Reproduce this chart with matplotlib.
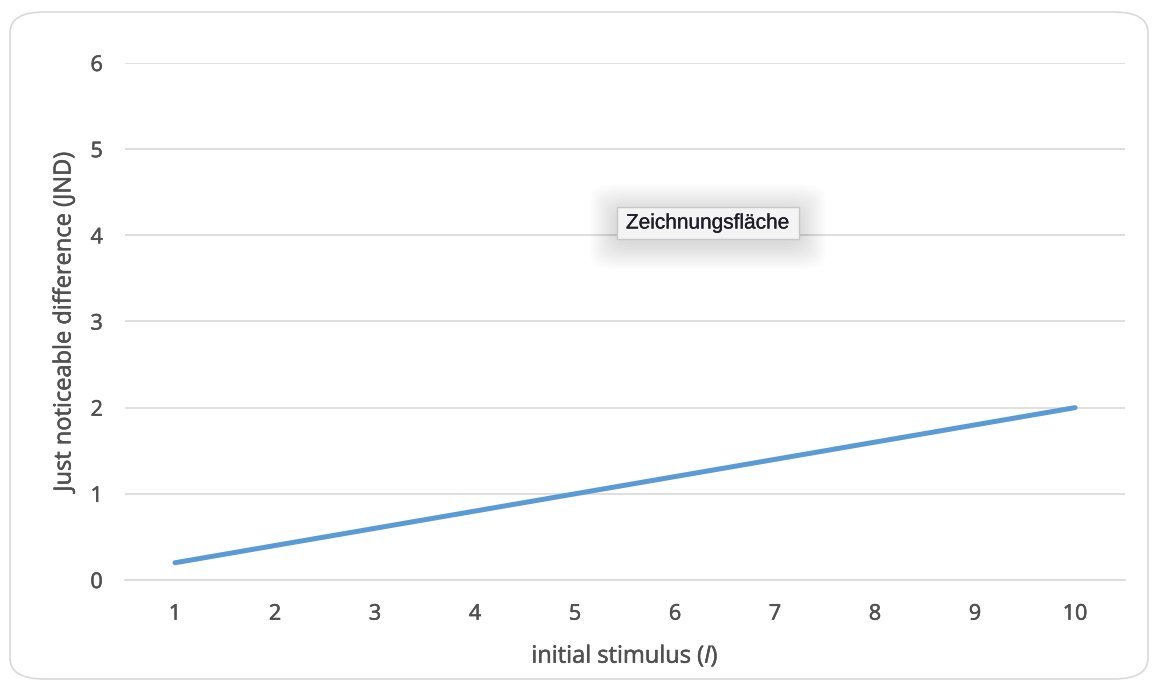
import matplotlib
matplotlib.use('Agg')
import matplotlib.pyplot as plt
import matplotlib.patheffects as pe
from matplotlib.patches import FancyBboxPatch

# stimulus levels and the matching just noticeable difference (Weber fraction 0.2)
stimulus = ['1', '2', '3', '4', '5', '6', '7', '8', '9', '10']
jnd = [0.2, 0.4, 0.6, 0.8, 1.0, 1.2, 1.4, 1.6, 1.8, 2.0]
y_ticks = [0, 1, 2, 3, 4, 5, 6]

plt.rcParams['font.family'] = ['Open Sans', 'DejaVu Sans']
plt.rcParams['mathtext.fontset'] = 'custom'
plt.rcParams['mathtext.it'] = 'Open Sans:italic'
plt.rcParams['mathtext.rm'] = 'Open Sans'

text_grey = '#505050'
# slightly heavier strokes for the labels
heavy = [pe.withStroke(linewidth=0.4, foreground=text_grey)]

fig = plt.figure(figsize=(11.54, 6.83), dpi=100)
ax = fig.add_axes([0.1083, 0.1508, 0.8666, 0.757])

# rounded chart frame
frame = FancyBboxPatch((10 / 1154, 4 / 683), 1138 / 1154, 667 / 683,
                       boxstyle='round,pad=0,rounding_size=0.03',
                       transform=fig.transFigure, facecolor='none',
                       edgecolor='#d9d9d9', linewidth=1.2, zorder=0)
fig.patches.append(frame)

x = list(range(len(stimulus)))
ax.plot(x, jnd, color='#5b9bd5', linewidth=3.6, solid_capstyle='round', zorder=3)

ax.set_xlim(-0.5, len(stimulus) - 0.5)
ax.set_ylim(0, 6)
ax.set_xticks(x)
ax.set_xticklabels(stimulus)
ax.set_yticks(y_ticks)
ax.yaxis.grid(True, color='#d9d9d9', linewidth=1.2)
ax.set_axisbelow(True)
for side in ['top', 'right', 'left', 'bottom']:
    ax.spines[side].set_visible(False)
ax.axhline(0, color='#d9d9d9', linewidth=1.2, zorder=1, clip_on=False)
ax.tick_params(length=0, labelsize=15.5, labelcolor=text_grey)
ax.tick_params(axis='x', pad=17)
ax.tick_params(axis='y', pad=16)
for lab in ax.get_xticklabels() + ax.get_yticklabels():
    lab.set_path_effects(heavy)

ax.set_xlabel(r'initial stimulus ($\mathit{I}$)', fontsize=17, color=text_grey,
              labelpad=13, path_effects=heavy)
ax.set_ylabel('Just noticeable difference (JND)', fontsize=17, color=text_grey,
              labelpad=10, path_effects=heavy)

# hover tooltip over the plot area, with a soft shadow
bx, by, bw, bh = 617 / 1154, 1 - 239 / 683, 182 / 1154, 32 / 683
for i in range(12):
    g = (12 - i) * 2.2
    shadow = FancyBboxPatch((bx - g / 1154, by - (g + 4) / 683), bw + 2 * g / 1154, bh + 2 * g / 683,
                            boxstyle='round,pad=0,rounding_size=0.02',
                            transform=fig.transFigure, facecolor='#000000',
                            edgecolor='none', alpha=0.012, zorder=5)
    fig.patches.append(shadow)
tip = FancyBboxPatch((bx, by), bw, bh, boxstyle='square,pad=0',
                     transform=fig.transFigure, facecolor='#f4f4f4',
                     edgecolor='#c8c8c8', linewidth=1, zorder=6)
fig.patches.append(tip)
fig.text(bx + bw / 2, by + bh / 2, 'Zeichnungsfläche', ha='center', va='center',
         fontsize=15, color='#1e1e2a', family=['Liberation Sans', 'DejaVu Sans'], zorder=7,
         path_effects=[pe.withStroke(linewidth=0.2, foreground='#1e1e2a')])

fig.savefig('out.png', dpi=100)
